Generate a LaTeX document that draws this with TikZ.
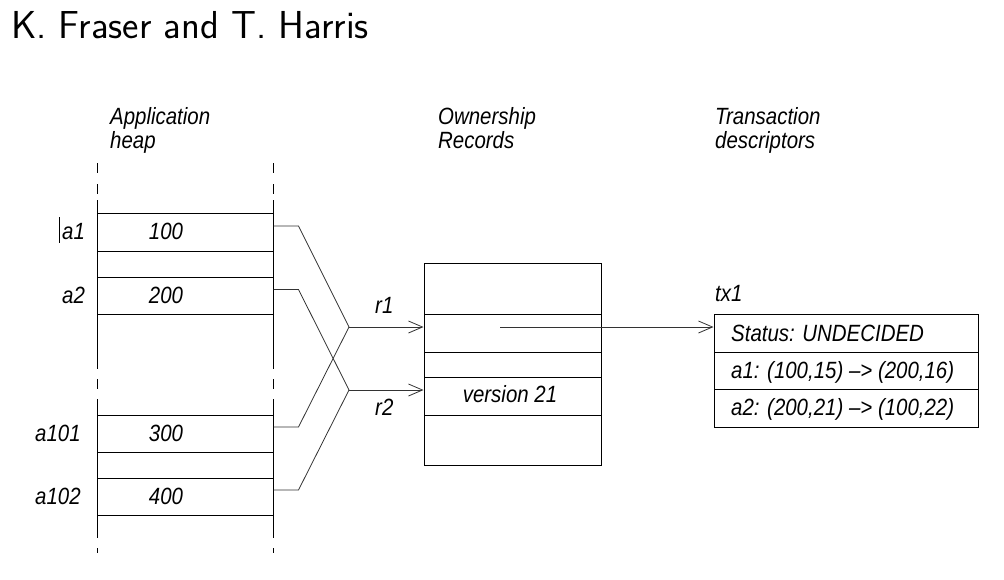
\documentclass[tikz,border=0pt]{standalone}
\usepackage{fontspec}
\newfontfamily\labfont{Liberation Sans}[FakeStretch=0.87]
\usetikzlibrary{arrows.meta}
\begin{document}
\begin{tikzpicture}[x=1pt,y=-1pt,
  frame/.style={line width=1pt,black},
  conn/.style={line width=0.8pt,black!80},
  tip/.style={-{Straight Barb[length=14pt,width=12pt]}},
  lbl/.style={font=\labfont\itshape\fontsize{23.5}{25}\selectfont,inner sep=0pt,anchor=base west},
  val/.style={font=\labfont\itshape\fontsize{23.5}{25}\selectfont,inner sep=0pt,anchor=base},
  titlefont/.style={font=\sffamily\fontsize{39}{44}\selectfont,inner sep=0pt,anchor=base west},
  hcell/.style={draw,frame,minimum width=176pt,inner sep=0pt},
  ocell/.style={draw,frame,minimum width=177pt,inner sep=0pt},
  tcell/.style={draw,frame,minimum width=264pt,inner sep=0pt}]
\useasboundingbox (0,0) rectangle (1004,579);

% title
\node[titlefont] (title) at (11,38) {K. Fraser and T. Harris};

% headings
\node[lbl] (h1a) at (110,124) {Application};
\node[lbl] (h1b) at (110,148) {heap};
\node[lbl] (h2a) at (438,124) {Ownership};
\node[lbl] (h2b) at (438,148) {Records};
\node[lbl] (h3a) at (715,124) {Transaction};
\node[lbl] (h3b) at (715,148) {descriptors};

% heap columns
\foreach \x in {97,273}{
  \draw[frame] (\x,163)--(\x,173);
  \draw[frame] (\x,184)--(\x,194);
  \draw[frame] (\x,200)--(\x,369);
  \draw[frame] (\x,379)--(\x,389);
  \draw[frame] (\x,399)--(\x,538);
  \draw[frame] (\x,548)--(\x,553);
}
% heap cells
\node[hcell,minimum height=38pt] (m1) at (185,232) {};
\node[hcell,minimum height=37pt] (m2) at (185,295.5) {};
\node[hcell,minimum height=37pt] (m3) at (185,433.5) {};
\node[hcell,minimum height=37pt] (m4) at (185,496.5) {};

\node[val] (v1) at (166,239.5) {100};
\node[val] (v2) at (166,303) {200};
\node[val] (v3) at (166,441) {300};
\node[val] (v4) at (166,504) {400};

\node[lbl] (la1) at (62,239.5) {a1};
\node[lbl] (la2) at (62,303) {a2};
\node[lbl] (la101) at (35,441) {a101};
\node[lbl] (la102) at (35,504) {a102};
\draw[line width=0.8pt] (59,217)--(59,243);

% ownership records
\node[ocell,minimum height=51pt] (o1) at (512.5,288.5) {};
\node[ocell,minimum height=38pt] (o2) at (512.5,333) {};
\node[ocell,minimum height=25pt] (o3) at (512.5,364.5) {};
\node[ocell,minimum height=38pt] (o4) at (512.5,396) {};
\node[ocell,minimum height=50pt] (o5) at (512.5,440) {};
\node[val] (ver) at (510,402) {version 21};

% junctions
\coordinate (j1) at (349,327);
\coordinate (j2) at (349,390);

\draw[conn] ([yshift=6pt]m1.east) -- ++(25,0) -- (j1);
\draw[conn] ([yshift=6.5pt]m3.east) -- ++(25,0) -- (j1);
\draw[conn] ([yshift=6pt]m2.east) -- ++(25,0) -- (j2);
\draw[conn] ([yshift=6.5pt]m4.east) -- ++(25,0) -- (j2);
\draw[conn,tip] (j1) -- (j1 -| o2.west);
\draw[conn,tip] (j2) -- (j2 -| o4.west);

\node[lbl] (r1) at (375,313) {r1};
\node[lbl] (r2) at (375,415) {r2};

% transaction descriptor
\node[lbl] (tx) at (715,301) {tx1};
\node[tcell,minimum height=38pt] (t1) at (846,333) {};
\node[tcell,minimum height=37pt] (t2) at (846,370.5) {};
\node[tcell,minimum height=38pt] (t3) at (846,408) {};
\node[lbl] (s1) at (731,341) {Status: UNDECIDED};
\node[lbl] (s2) at (731,378) {a1: (100,15) –> (200,16)};
\node[lbl] (s3) at (731,415.5) {a2: (200,21) –> (100,22)};

\coordinate (src) at (500,327);
\draw[conn,tip] (src) -- (src -| t1.west);
\end{tikzpicture}
\end{document}
